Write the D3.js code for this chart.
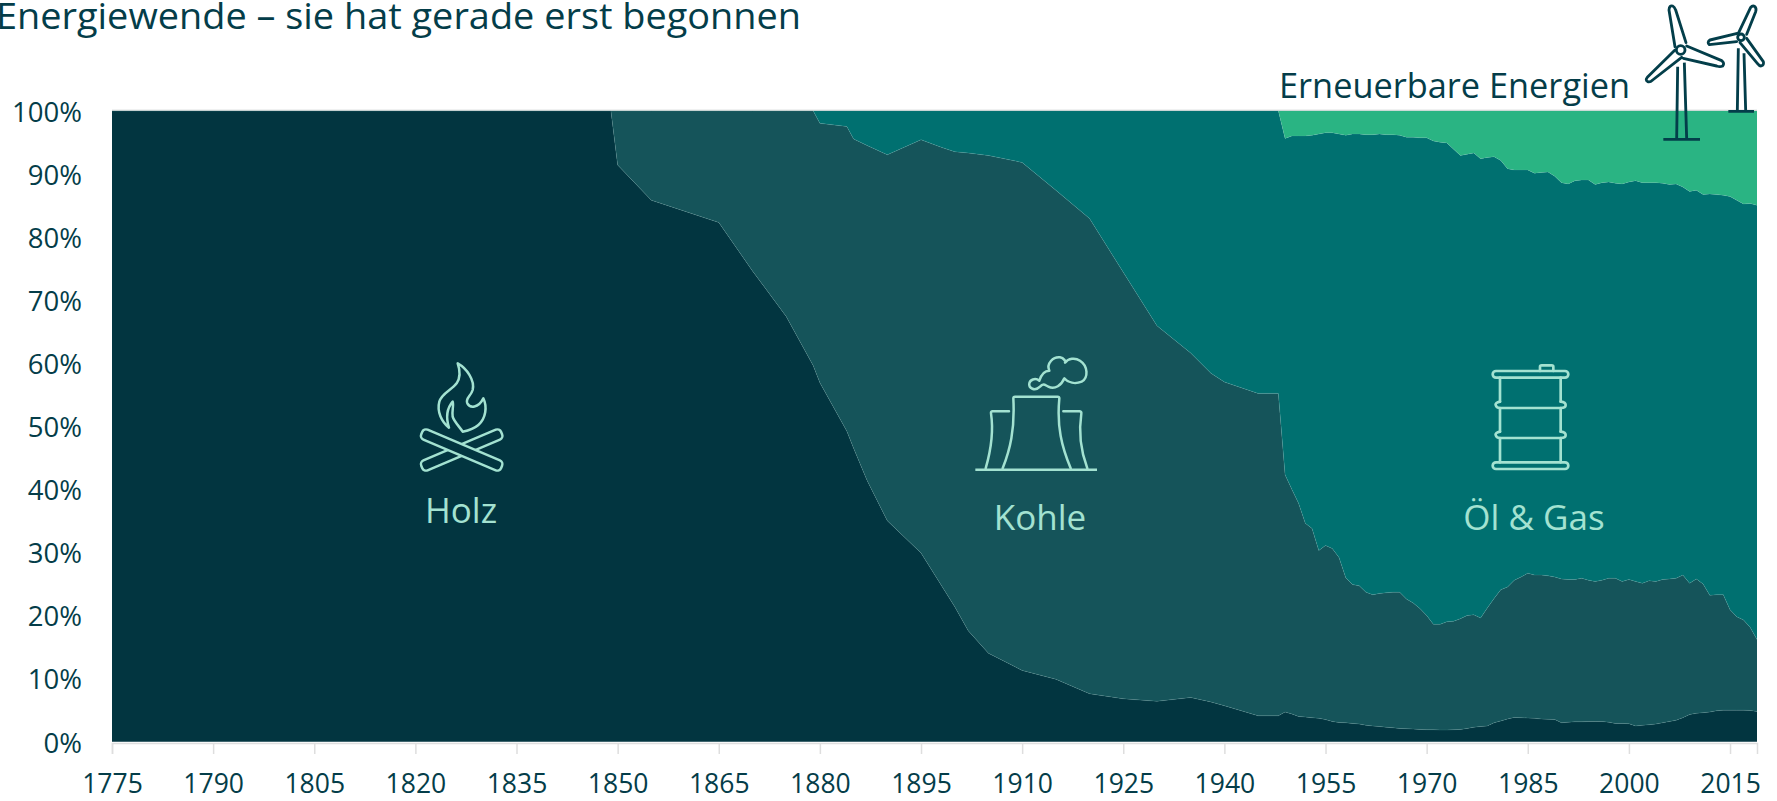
<!DOCTYPE html>
<html lang="de">
<head>
<meta charset="utf-8">
<title>Energiewende</title>
<script src="https://cdn.jsdelivr.net/npm/d3@7/dist/d3.min.js"></script>
<style>
html,body{margin:0;padding:0;background:#fff;overflow:hidden}
svg{display:block}
text{font-family:"Open Sans","Noto Sans",sans-serif}
</style>
</head>
<body>
<svg id="chart" width="1777" height="801"></svg>
<script>
const titleText = "Energiewende – sie hat gerade erst begonnen";
const seriesKeys = ["Holz","Kohle","Öl & Gas","Erneuerbare Energien"];
const seriesColors = ["#023540","#15545a","#007070","#2ab483"];
const xTickYears = [1775,1790,1805,1820,1835,1850,1865,1880,1895,1910,1925,1940,1955,1970,1985,2000,2015];
const yTickValues = [0,10,20,30,40,50,60,70,80,90,100];

const years = [1775,1849,1850,1855,1865,1870,1875,1879,1880,1884,1885,1887,1890,1895,1898,1900,1902,1905,1910,1915,1920,1925,1930,1935,1938,1940,1945,1948,1949,
1950,1951,1952,1953,1954,1955,1956,1957,1958,1959,1960,1961,1962,1963,1964,1965,1966,1967,1968,1969,
1970,1971,1972,1973,1974,1975,1976,1977,1978,1979,1980,1981,1982,1983,1984,1985,1986,1987,1988,1989,
1990,1991,1992,1993,1994,1995,1996,1997,1998,1999,2000,2001,2002,2003,2004,2005,2006,2007,2008,2009,
2010,2011,2012,2013,2014,2015,2016,2017,2018,2019];

const holz = [100,100,91.4,85.8,82.3,74.6,67.4,59.6,56.9,49.2,46.5,41.4,35,29.9,24.8,21.4,17.6,14,11.3,9.9,7.6,6.8,6.4,7,6.3,5.7,4.1,4.1,4.7,
4.4,4,3.9,3.8,3.7,3.5,3.2,3.05,3,2.9,2.8,2.6,2.5,2.4,2.3,2.2,2.1,2.05,2,1.95,
1.9,1.9,1.85,1.85,1.9,1.95,2.1,2.3,2.4,2.5,3,3.3,3.6,3.85,3.8,3.75,3.7,3.6,3.55,3.5,
3,3.1,3.15,3.15,3.2,3.2,3.2,3.1,2.9,2.9,2.85,2.5,2.6,2.7,2.8,3,3.2,3.4,3.8,4.3,
4.5,4.6,4.7,4.9,5,5,5,5,4.95,4.8];

const kohle = [0,0,8.6,14.2,17.7,25.4,32.6,40.4,41.1,48.3,49,53.1,58,65.5,69.4,72.1,75.7,78.9,80.5,77.5,75.3,67.6,59.5,54.6,52.1,51.3,51.1,51.1,37.6,
35.6,33.8,30.7,30,26.6,27.6,27.4,26.15,23,22,21.9,21.1,20.8,21.1,21.3,21.5,21.6,20.55,20,19.15,
18.1,16.7,16.75,17.15,17.2,17.55,17.9,17.8,17.2,18.7,19.7,20.8,20.9,21.75,22.3,22.95,22.7,22.8,22.75,22.6,
22.8,22.6,22.55,22.75,22.4,22.2,22.4,22.8,23,22.5,22.85,22.9,22.5,22.8,22.6,22.7,22.6,22.5,22.6,20.8,
21.3,20.4,18.5,18.4,18.3,15.9,14.8,14.3,13.15,11.4];

const oelGas = [0,0,0,0,0,0,0,0,2,2.5,4.5,5.5,7,4.6,5.8,6.5,6.7,7.1,8.2,12.6,17.1,25.6,34.1,38.4,41.6,43,44.8,44.8,53.3,
56,58.2,61.4,62.3,66,65.4,65.9,67.1,70.1,71.4,71.6,72.5,72.9,72.8,72.6,72.5,72.4,73.2,73.8,74.6,
75.7,76.6,76.4,75.9,74.8,73.4,73.1,73.2,72.8,71.4,70,68,66.3,65,64.5,63.9,63.7,63.8,64,63.5,
62.8,62.7,63.2,63.1,63.4,62.9,63,62.8,62.6,63,63,63.5,63.5,63.1,63.2,62.8,62.5,62.5,61.5,62.1,
61.6,61.7,63.6,63.4,63.3,65.5,66,65.9,67.2,68.8];

const erneuerbare = [0,0,0,0,0,0,0,0,0,0,0,0,0,0,0,0,0,0,0,0,0,0,0,0,0,0,0,0,4.4,
4,4,4,3.9,3.7,3.5,3.5,3.7,3.9,3.7,3.7,3.8,3.8,3.7,3.8,3.8,3.9,4.2,4.2,4.3,
4.3,4.8,5,5.1,6.1,7.1,6.9,6.7,7.6,7.4,7.3,7.9,9.2,9.4,9.4,9.4,9.9,9.8,9.7,10.4,
11.4,11.6,11.1,11,11,11.7,11.4,11.3,11.5,11.6,11.3,11.1,11.4,11.4,11.4,11.5,11.7,11.6,12.1,12.8,
12.6,13.3,13.2,13.3,13.4,13.6,14.2,14.8,14.7,15];

const rows = years.map((y,i)=>({year:y,"Holz":holz[i],"Kohle":kohle[i],"Öl & Gas":oelGas[i],"Erneuerbare Energien":erneuerbare[i]}));
const stacked = d3.stack().keys(seriesKeys)(rows);

const TXT = "#043d49", ICON = "#a3e2d1", GREY = "#dedede";
const x = d3.scaleLinear().domain([1775,2019]).range([112,1757]);
const y = d3.scaleLinear().domain([0,100]).range([741.7,110.7]);
const svg = d3.select("#chart");

const area = d3.area().x(d=>x(d.data.year)).y0(d=>y(d[0])).y1(d=>y(d[1]));
svg.append("g").selectAll("path").data(stacked).join("path")
  .attr("d",area).attr("fill",(d,i)=>seriesColors[i]);

// thin lighter seam along the upper edge of each band
const seam = d3.line().x(d=>x(d.data.year)).y(d=>y(d[1]));
svg.append("g").selectAll("path").data(stacked.slice(0,3)).join("path")
  .attr("d",seam).attr("fill","none").attr("stroke","#7fc4bd").attr("stroke-opacity",.25).attr("stroke-width",.6);

// top gridline
svg.append("line").attr("x1",112).attr("x2",1757).attr("y1",y(100)-.5).attr("y2",y(100)-.5).attr("stroke","#cfd3d3").attr("stroke-width",1);

// axes
const xAxis = d3.axisBottom(x).tickValues(xTickYears).tickFormat(d3.format("d")).tickSize(11).tickPadding(20);
const gx = svg.append("g").attr("transform","translate(0,743)").call(xAxis);
gx.select(".domain").attr("stroke",GREY).attr("stroke-width",1.5);
gx.selectAll(".tick line").attr("stroke",GREY).attr("stroke-width",1.5);
gx.selectAll("text").attr("fill",TXT).style("font-size","26.5px").attr("font-family",null);

const yAxis = d3.axisLeft(y).tickValues(yTickValues).tickFormat(d=>d+"%").tickSize(0).tickPadding(30);
const gy = svg.append("g").attr("transform","translate(112,1.5)").call(yAxis);
gy.select(".domain").remove();
gy.selectAll("text").attr("fill",TXT).style("font-size","27.5px").attr("font-family",null);

// title and captions
svg.append("text").attr("x",-4).attr("y",29).attr("fill",TXT).style("font-size","37px")
  .attr("textLength",805).attr("lengthAdjust","spacingAndGlyphs").text(titleText);
svg.append("text").attr("x",1279).attr("y",98).attr("fill",TXT).style("font-size","35px")
  .attr("textLength",351).attr("lengthAdjust","spacingAndGlyphs").text(seriesKeys[3]);

const lab = [["Holz",461,523],["Kohle",1040,530],["Öl & Gas",1534,530]];
svg.append("g").selectAll("text").data(lab).join("text")
  .attr("x",d=>d[1]).attr("y",d=>d[2]).attr("text-anchor","middle")
  .attr("fill",ICON).style("font-size","35px").style("font-weight",400).text(d=>d[0]);

// icons (decorative outlines)
function icon(tx,ty,col,sw){
  return svg.append("g").attr("transform",`translate(${tx},${ty}) scale(${1/3})`)
    .attr("fill","none").attr("stroke",col).attr("stroke-width",sw).attr("stroke-linejoin","round").attr("stroke-linecap","round");
}
const fire = icon(380,340,ICON,7.5);
fire.append("rect").attr("x",115).attr("y",314).attr("width",260).attr("height",32).attr("rx",12)
  .attr("transform","rotate(-23 245 330)");
fire.append("rect").attr("x",115).attr("y",314).attr("width",260).attr("height",32).attr("rx",12)
  .attr("transform","rotate(23 245 330)").attr("fill",seriesColors[0]);
fire.append("path").attr("d","M233,70 C260,85 285,120 278,150 C272,170 255,175 262,190 C270,205 295,205 310,175 C322,200 318,235 295,255 C280,268 262,272 248,275 C240,262 222,245 218,230 C215,215 222,195 218,185 C205,200 195,225 207,263 C185,245 170,215 178,185 C185,160 215,150 230,130 C242,112 240,90 233,70 Z");

const plant = icon(960,340,ICON,7.5);
plant.append("path").attr("stroke-linecap","butt").attr("d","M46,389 H411");
plant.append("path").attr("d","M128,385 C150,330 165,270 160,175 Q160,170 165,170 H293 Q298,170 298,175 C290,260 305,320 332,385");
plant.append("path").attr("d","M77,385 C90,340 102,280 93,220 Q92,214 98,214 H147");
plant.append("path").attr("d","M310,214 H358 Q365,214 364,220 C355,280 365,340 382,385");
plant.append("path").attr("d","M238,122 C245,100 255,92 268,92 C258,70 280,50 300,52 C312,54 318,65 315,68 C325,55 345,52 360,62 C385,78 385,115 365,125 C345,133 325,128 313,115 C305,135 285,150 265,140 C255,135 250,128 240,140 C225,155 205,145 208,130 C210,120 225,112 238,122 Z");

const barrel = icon(1460,350,ICON,8);
barrel.append("rect").attr("x",98).attr("y",63).attr("width",227).attr("height",20).attr("rx",10);
barrel.append("rect").attr("x",98).attr("y",337).attr("width",227).attr("height",20).attr("rx",10);
barrel.append("path").attr("d","M240,63 V50 Q240,46 245,46 H275 Q280,46 280,50 V63");
barrel.append("path").attr("d","M120,83 V155 M302,83 V155 M120,174 V245 M302,174 V245 M120,264 V337 M302,264 V337");
barrel.append("path").attr("d","M120,155 Q105,158 107,165 Q109,174 120,174 H302 Q317,174 317,165 Q317,157 302,155");
barrel.append("path").attr("d","M120,245 Q105,248 107,255 Q109,264 120,264 H302 Q317,264 317,255 Q317,247 302,245");

const wind = icon(1630,0,"#033e4a",8.5);
wind.append("circle").attr("cx",152).attr("cy",150).attr("r",13);
wind.append("path").attr("d","M135,140 L117,30 Q118,15 128,18 Q133,20 137,30 L168,128");
wind.append("path").attr("d","M170,138 L275,182 Q285,190 278,198 Q270,202 260,198 L160,175");
wind.append("path").attr("d","M135,150 L52,232 Q45,240 53,245 Q60,248 68,240 L155,172");
wind.append("path").attr("stroke-linecap","butt").attr("d","M143,200 L140,415 M163,188 L170,415 M100,418 H210");
wind.append("circle").attr("cx",333).attr("cy",112).attr("r",10);
wind.append("path").attr("d","M325,100 L362,22 Q368,15 375,20 Q380,25 377,35 L350,103");
wind.append("path").attr("d","M322,100 L240,120 Q230,127 238,134 L320,125");
wind.append("path").attr("d","M350,115 L400,185 Q403,195 393,198 Q388,198 382,190 L330,128");
wind.append("path").attr("stroke-linecap","butt").attr("d","M325,145 L322,330 M342,160 L347,330 M295,334 H372");
</script>
</body>
</html>
